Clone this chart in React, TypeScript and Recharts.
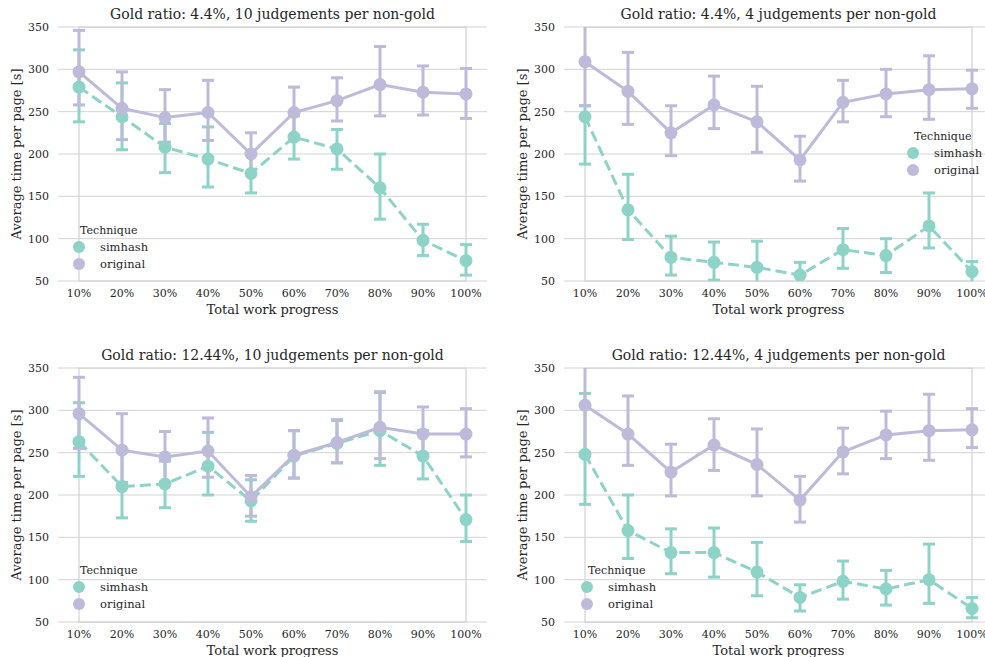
import {
  LineChart,
  Line,
  XAxis,
  YAxis,
  CartesianGrid,
  ErrorBar,
  Legend,
  ReferenceArea,
} from "recharts"

const progress = ["10%", "20%", "30%", "40%", "50%", "60%", "70%", "80%", "90%", "100%"]
const yTicks = [50, 100, 150, 200, 250, 300, 350]

// gold 4.4%, 10 judgements
const a_simhash = [279, 244, 208, 194, 177, 220, 206, 160, 98, 74]
const a_simhashLo = [238, 205, 178, 161, 154, 194, 182, 123, 80, 57]
const a_simhashHi = [323, 284, 236, 232, 200, 245, 229, 200, 117, 93]
const a_original = [297, 254, 243, 249, 200, 249, 263, 282, 273, 271]
const a_originalLo = [258, 217, 214, 216, 176, 217, 239, 245, 246, 242]
const a_originalHi = [346, 297, 276, 287, 225, 279, 290, 327, 304, 301]

// gold 4.4%, 4 judgements
const b_simhash = [244, 134, 78, 72, 66, 57, 87, 80, 115, 61]
const b_simhashLo = [188, 99, 57, 51, 45, 42, 65, 60, 89, 45]
const b_simhashHi = [257, 176, 103, 96, 97, 72, 112, 100, 154, 73]
const b_original = [309, 274, 225, 258, 238, 193, 261, 271, 276, 277]
const b_originalLo = [257, 235, 198, 230, 202, 168, 238, 244, 241, 254]
const b_originalHi = [362, 320, 257, 292, 280, 221, 287, 300, 316, 299]

// gold 12.44%, 10 judgements
const c_simhash = [263, 210, 213, 234, 193, 246, 261, 276, 246, 171]
const c_simhashLo = [222, 173, 185, 200, 169, 220, 238, 235, 219, 145]
const c_simhashHi = [309, 251, 240, 274, 218, 276, 288, 321, 276, 200]
const c_original = [296, 253, 245, 252, 198, 247, 262, 280, 272, 272]
const c_originalLo = [255, 215, 215, 221, 175, 220, 238, 243, 245, 245]
const c_originalHi = [339, 296, 275, 291, 223, 276, 289, 322, 304, 302]

// gold 12.44%, 4 judgements
const d_simhash = [248, 158, 132, 132, 109, 79, 98, 89, 100, 66]
const d_simhashLo = [189, 125, 107, 103, 81, 63, 77, 70, 72, 55]
const d_simhashHi = [320, 200, 160, 161, 144, 94, 122, 111, 142, 79]
const d_original = [306, 272, 227, 259, 236, 194, 251, 271, 276, 277]
const d_originalLo = [250, 235, 199, 229, 199, 168, 225, 243, 241, 256]
const d_originalHi = [362, 317, 260, 290, 278, 222, 279, 299, 319, 302]

const SIMHASH = "#8dd3c7"
const ORIGINAL = "#bebada"
const TEXT = "#262626"
const GRID = "#d4d4d4"
const FONT = '"DejaVu Serif", serif'

function buildRows(sm: number[], sl: number[], sh: number[], om: number[], ol: number[], oh: number[]) {
  return progress.map((p, i) => ({
    progress: p,
    simhash: sm[i],
    simhashErr: [sm[i] - sl[i], sh[i] - sm[i]],
    original: om[i],
    originalErr: [om[i] - ol[i], oh[i] - om[i]],
  }))
}

function LegendBox() {
  const row = (color: string, name: string) => (
    <div style={{ display: "flex", alignItems: "center", height: 17 }}>
      <span style={{ width: 12, height: 12, borderRadius: "50%", background: color, display: "inline-block" }} />
      <span style={{ marginLeft: 15, fontSize: 11.5 }}>{name}</span>
    </div>
  )
  return (
    <div style={{ fontFamily: FONT, color: TEXT, whiteSpace: "nowrap" }}>
      <div style={{ fontSize: 11, lineHeight: "15px", marginLeft: 7 }}>Technique</div>
      {row(SIMHASH, "simhash")}
      {row(ORIGINAL, "original")}
    </div>
  )
}

type PanelProps = {
  id: string
  title: string
  left: number
  top: number
  width: number
  marginLeft: number
  legendLeft: number
  legendTop: number
  rows: ReturnType<typeof buildRows>
}

function Panel({ id, title, left, top, width, marginLeft, legendLeft, legendTop, rows }: PanelProps) {
  const plotLeft = marginLeft + 58
  const clip = `url(#plot-clip-${id})`
  return (
    <div style={{ position: "absolute", left, top, width, height: 330 }}>
      <div
        style={{
          position: "absolute",
          left: plotLeft,
          width: 429,
          top: 5,
          textAlign: "center",
          fontFamily: FONT,
          fontSize: 14,
          lineHeight: "19px",
          color: TEXT,
          whiteSpace: "nowrap",
        }}
      >
        {title}
      </div>
      <LineChart width={width} height={330} data={rows} margin={{ top: 27, right: width - plotLeft - 429, bottom: 9, left: marginLeft }}>
        <defs>
          <clipPath id={`plot-clip-${id}`}>
            <rect x={plotLeft} y={27} width={429} height={254} />
          </clipPath>
        </defs>
        <CartesianGrid vertical={false} stroke={GRID} strokeWidth={1} />
        <ReferenceArea y1={50} y2={350} fill="none" stroke={GRID} strokeWidth={1.25} ifOverflow="visible" />
        <XAxis
          dataKey="progress"
          interval={0}
          tickLine={false}
          axisLine={false}
          tickSize={0}
          tickMargin={8}
          height={40}
          padding={{ left: 21, right: 21 }}
          tick={{ fill: TEXT, fontSize: 11, fontFamily: FONT }}
          label={{ value: "Total work progress", position: "insideBottom", offset: 7, fill: TEXT, fontSize: 13, fontFamily: FONT }}
        />
        <YAxis
          width={58}
          domain={[50, 350]}
          ticks={yTicks}
          interval={0}
          allowDataOverflow
          tickLine={false}
          axisLine={false}
          tickSize={0}
          tickMargin={9}
          tick={{ fill: TEXT, fontSize: 11, fontFamily: FONT }}
          label={{
            value: "Average time per page [s]",
            angle: -90,
            position: "insideLeft",
            offset: 16,
            fill: TEXT,
            fontSize: 13,
            fontFamily: FONT,
            style: { textAnchor: "middle" },
          }}
        />
        <Legend
          layout="vertical"
          align="center"
          verticalAlign="middle"
          content={() => <LegendBox />}
          wrapperStyle={{ left: legendLeft, top: legendTop, width: 100 }}
        />
        <Line
          type="linear"
          dataKey="simhash"
          stroke={SIMHASH}
          strokeWidth={3}
          strokeDasharray="11 5"
          dot={{ r: 6.5, fill: SIMHASH, stroke: "none" }}
          activeDot={false}
          isAnimationActive={false}
        >
          <ErrorBar dataKey="simhashErr" direction="y" width={6} stroke={SIMHASH} strokeWidth={3} clipPath={clip} isAnimationActive={false} />
        </Line>
        <Line
          type="linear"
          dataKey="original"
          stroke={ORIGINAL}
          strokeWidth={3}
          dot={{ r: 6.5, fill: ORIGINAL, stroke: "none" }}
          activeDot={false}
          isAnimationActive={false}
        >
          <ErrorBar dataKey="originalErr" direction="y" width={6} stroke={ORIGINAL} strokeWidth={3} clipPath={clip} isAnimationActive={false} />
        </Line>
      </LineChart>
    </div>
  )
}

export default function App() {
  return (
    <div style={{ position: "absolute", left: 0, top: 0, width: 985, height: 657, overflow: "hidden", background: "#fff" }}>
      <Panel
        id="a"
        title="Gold ratio: 4.4%, 10 judgements per non-gold"
        left={0}
        top={0}
        width={492}
        marginLeft={0}
        legendLeft={73}
        legendTop={223}
        rows={buildRows(a_simhash, a_simhashLo, a_simhashHi, a_original, a_originalLo, a_originalHi)}
      />
      <Panel
        id="b"
        title="Gold ratio: 4.4%, 4 judgements per non-gold"
        left={492}
        top={0}
        width={506}
        marginLeft={14}
        legendLeft={415}
        legendTop={129}
        rows={buildRows(b_simhash, b_simhashLo, b_simhashHi, b_original, b_originalLo, b_originalHi)}
      />
      <Panel
        id="c"
        title="Gold ratio: 12.44%, 10 judgements per non-gold"
        left={0}
        top={341}
        width={492}
        marginLeft={0}
        legendLeft={73}
        legendTop={222}
        rows={buildRows(c_simhash, c_simhashLo, c_simhashHi, c_original, c_originalLo, c_originalHi)}
      />
      <Panel
        id="d"
        title="Gold ratio: 12.44%, 4 judgements per non-gold"
        left={492}
        top={341}
        width={506}
        marginLeft={14}
        legendLeft={89}
        legendTop={222}
        rows={buildRows(d_simhash, d_simhashLo, d_simhashHi, d_original, d_originalLo, d_originalHi)}
      />
    </div>
  )
}
